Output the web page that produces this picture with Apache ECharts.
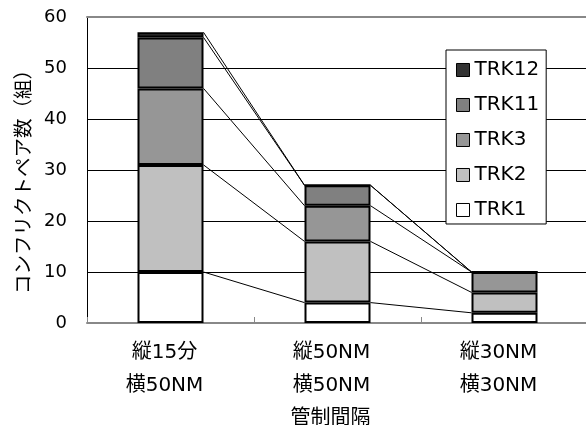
<!DOCTYPE html>
<html>
<head>
<meta charset="utf-8">
<script src="https://cdn.jsdelivr.net/npm/echarts@6/dist/echarts.min.js"></script>
<style>
html, body { margin: 0; padding: 0; background: #fff; }
#chart { width: 586px; height: 425px; }
</style>
</head>
<body>
<div id="chart"></div>
<script>
// Conflict pair counts per separation standard, stacked by track group
const categories = ['縦15分\n横50NM', '縦50NM\n横50NM', '縦30NM\n横30NM'];
const seriesNames = ['TRK1', 'TRK2', 'TRK3', 'TRK11', 'TRK12'];
const trk1 = [10, 4, 2];
const trk2 = [21, 12, 4];
const trk3 = [15, 7, 4];
const trk11 = [10, 4, 0];
const trk12 = [1, 0, 0];
const yTicks = [0, 10, 20, 30, 40, 50, 60];

const seriesValues = [trk1, trk2, trk3, trk11, trk12];
const fills = ['#ffffff', '#c0c0c0', '#969696', '#808080', '#333333'];
const BAR_W = 66;
const LATIN = '"DejaVu Sans", "Noto Sans CJK JP", sans-serif';
const CJK = '"Noto Sans CJK JP", sans-serif';

// Running totals: the top of each stacked segment
const tops = [];
let running = categories.map(() => 0);
seriesValues.forEach(vals => {
  running = running.map((r, i) => r + vals[i]);
  tops.push(running.slice());
});

// Connector data: [category index, top here, top in next category]
const connectors = [];
tops.forEach(level => {
  for (let j = 0; j < categories.length - 1; j++) {
    connectors.push([j, level[j], level[j + 1]]);
  }
});

const barSeries = seriesNames.map((name, k) => ({
  name: name,
  type: 'bar',
  stack: 'total',
  barWidth: BAR_W,
  data: seriesValues[k],
  itemStyle: { color: fills[k], borderColor: '#000', borderWidth: 2 },
  emphasis: { disabled: true },
  z: 3
}));

const connectorSeries = {
  name: 'connectors',
  type: 'custom',
  data: connectors,
  encode: { x: 0, y: 1 },
  silent: true,
  z: 2,
  renderItem: function (params, api) {
    const j = api.value(0);
    const a = api.coord([j, api.value(1)]);
    const b = api.coord([j + 1, api.value(2)]);
    return {
      type: 'line',
      shape: { x1: a[0] + BAR_W / 2, y1: a[1], x2: b[0] - BAR_W / 2, y2: b[1] },
      style: { stroke: '#000', lineWidth: 1 }
    };
  }
};

const chart = echarts.init(document.getElementById('chart'), null, { renderer: 'canvas' });
chart.setOption({
  animation: false,
  backgroundColor: '#fff',
  grid: { left: 87, top: 17, width: 501, height: 306, containLabel: false, outerBoundsMode: 'none' },
  xAxis: [{
    type: 'category',
    data: categories,
    position: 'bottom',
    axisLine: { lineStyle: { color: '#888', width: 2 } },
    axisTick: { show: true, inside: true, length: 6, lineStyle: { color: '#888', width: 1 } },
    axisLabel: {
      margin: 13, fontSize: 20, lineHeight: 33, color: '#000',
      fontFamily: LATIN, padding: [0, 12, 0, 0]
    },
    name: '管制間隔',
    nameLocation: 'middle',
    nameGap: 76,
    nameTextStyle: { fontSize: 20, color: '#000', fontFamily: CJK, padding: [0, 14, 0, 0] }
  }, {
    type: 'category',
    data: categories,
    position: 'top',
    axisLine: { lineStyle: { color: '#888', width: 2 } },
    axisTick: { show: false },
    axisLabel: { show: false }
  }],
  yAxis: {
    type: 'value',
    min: yTicks[0],
    max: yTicks[yTicks.length - 1],
    interval: yTicks[1] - yTicks[0],
    axisLine: { show: true, lineStyle: { color: '#000', width: 1 } },
    axisTick: { show: false },
    splitLine: { show: true, lineStyle: { color: '#000', width: 1 } },
    axisLabel: { margin: 20, fontSize: 18, color: '#000', fontFamily: LATIN },
    name: 'コンフリクトペア数（組）',
    nameLocation: 'middle',
    nameRotate: 90,
    nameGap: 55,
    nameTextStyle: { fontSize: 19.5, color: '#000', fontFamily: CJK, padding: [0, 14, 0, 0] }
  },
  legend: {
    data: seriesNames.slice().reverse(),
    orient: 'vertical',
    left: 446,
    top: 50,
    padding: [10, 7, 4, 10],
    itemWidth: 13,
    itemHeight: 13,
    itemGap: 15,
    icon: 'rect',
    itemStyle: { borderColor: '#000', borderWidth: 1 },
    textStyle: { fontSize: 20, color: '#000', fontFamily: LATIN },
    backgroundColor: '#fff',
    borderColor: '#000',
    borderWidth: 1,
    selectedMode: false
  },
  series: barSeries.concat([connectorSeries])
});
</script>
</body>
</html>
